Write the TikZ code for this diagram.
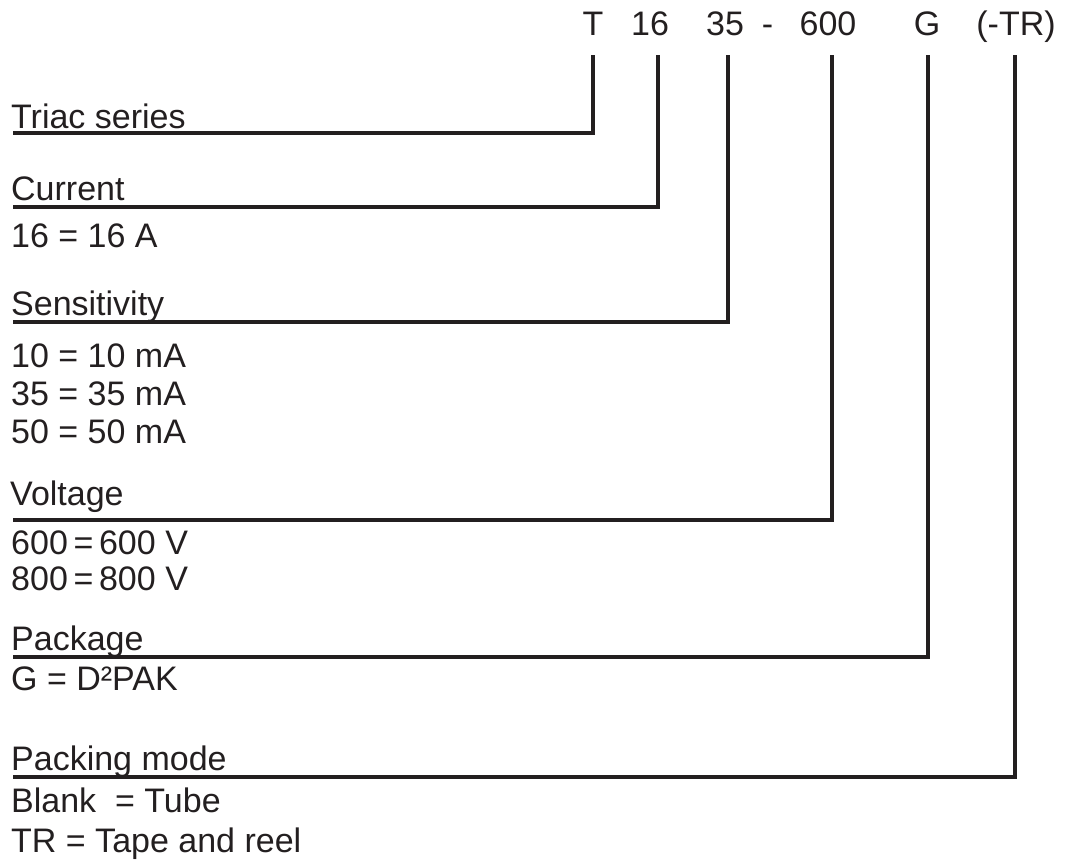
\documentclass[tikz,border=0pt]{standalone}
\usepackage{fontspec}
\setmainfont{Liberation Sans}
\definecolor{ink}{HTML}{231F20}
\begin{document}
\begin{tikzpicture}[x=1pt,y=-1pt,
  lbl/.style={anchor=base west,inner sep=0pt,font=\fontsize{34}{40}\selectfont,text=ink},
  hdr/.style={anchor=base,inner sep=0pt,font=\fontsize{34}{40}\selectfont,text=ink},
  lead/.style={draw=ink,line width=3.5pt,line join=miter}]
\useasboundingbox (0,0) rectangle (1067,862);
% header
\node[hdr] (hT)   at (593,35)  {T};
\node[hdr] (h16)  at (650,35)  {16};
\node[hdr] (h35)  at (725,35)  {35};
\node[hdr] (hdash) at (767.5,35) {-};
\node[hdr] (h600) at (828,35)  {600};
\node[hdr] (hG)   at (927,35)  {G};
\node[hdr] (hTR)  at (1016,35) {(-TR)};
% labels
\node[lbl] (nTriac) at (11,128) {Triac series};
\node[lbl] (nCur)   at (11,200) {Current};
\node[lbl] (n16)    at (11,247) {16 = 16 A};
\node[lbl] (nSens)  at (11,315) {Sensitivity};
\node[lbl] (n10)    at (11,367) {10 = 10 mA};
\node[lbl] (n35)    at (11,405) {35 = 35 mA};
\node[lbl] (n50)    at (11,443) {50 = 50 mA};
\node[lbl] (nVolt)  at (10,505) {Voltage};
\node[lbl] (n600)   at (11,554) {600\,=\,600 V};
\node[lbl] (n800)   at (11,590) {800\,=\,800 V};
\node[lbl] (nPack)  at (11,650) {Package};
\node[lbl] (nG)     at (11,690) {G = D²PAK};
\node[lbl] (nPm)    at (11,770) {Packing mode};
\node[lbl] (nBlank) at (11,812) {Blank\ \ = Tube};
\node[lbl] (nTR)    at (11,852) {TR = Tape and reel};
% leader tops and ends
\coordinate (tT)   at (593,55);
\coordinate (t16)  at (658,55);
\coordinate (t35)  at (728,55);
\coordinate (t600) at (832,55);
\coordinate (tG)   at (928,55);
\coordinate (tTR)  at (1015,55);
\coordinate (eT)   at (13,133);
\coordinate (e16)  at (13,207);
\coordinate (e35)  at (13,322);
\coordinate (e600) at (13,520);
\coordinate (eG)   at (13,657);
\coordinate (eTR)  at (13,777);
\draw[lead] (tT)   |- (eT);
\draw[lead] (t16)  |- (e16);
\draw[lead] (t35)  |- (e35);
\draw[lead] (t600) |- (e600);
\draw[lead] (tG)   |- (eG);
\draw[lead] (tTR)  |- (eTR);
\end{tikzpicture}
\end{document}
